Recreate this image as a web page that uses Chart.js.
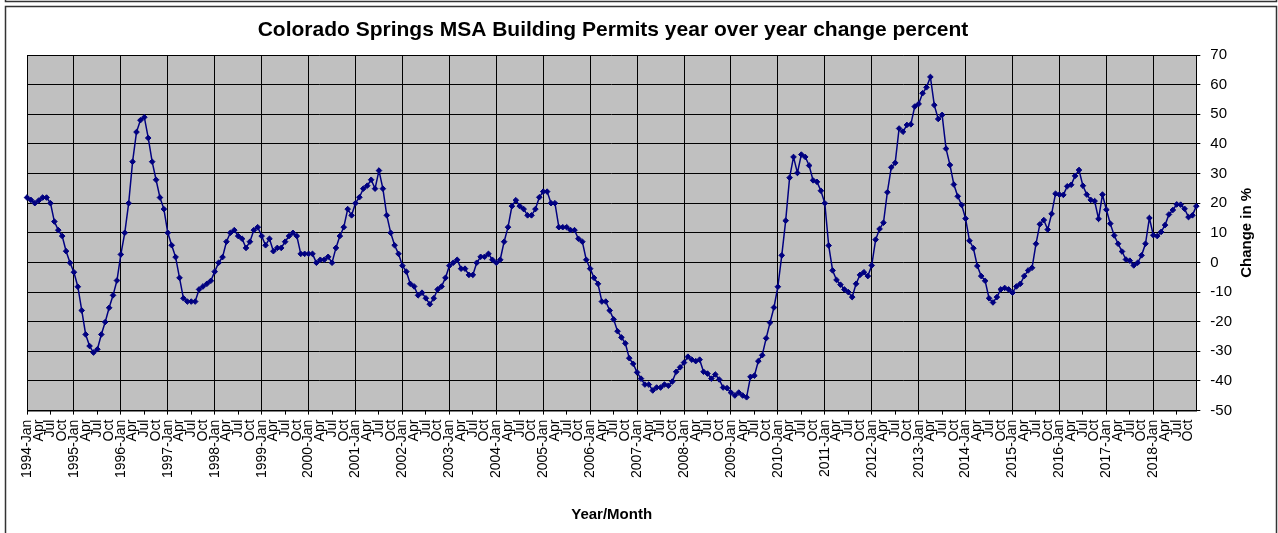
<!DOCTYPE html>
<html>
<head>
<meta charset="utf-8">
<script src="https://cdn.jsdelivr.net/npm/chart.js@4.4.0/dist/chart.umd.min.js"></script>
<style>
  html, body { margin: 0; padding: 0; background: #fff; }
  #wrap { position: relative; width: 1278px; height: 533px; }
</style>
</head>
<body>
<div id="wrap"><canvas id="permitsChart" width="1278" height="533"></canvas></div>
<script>
const firstYear = 1994;
const lastYear = 2018;
const monthNames = ['Jan', 'Feb', 'Mar', 'Apr', 'May', 'Jun', 'Jul', 'Aug', 'Sep', 'Oct', 'Nov', 'Dec'];

// year over year change in %, one value per month, Jan 1994 .. Dec 2018
const changePct = [
  21.9, 21.1, 20.0, 20.9, 21.9, 21.9, 20.0, 13.8, 10.9, 8.9, 3.8, -0.1,
  -3.3, -8.2, -16.2, -24.3, -28.2, -30.4, -29.3, -24.3, -20.1, -15.3, -11.1, -6.1,
  2.7, 10.0, 20.0, 34.0, 44.0, 48.0, 49.0, 42.0, 34.0, 27.9, 21.9, 18.0,
  10.0, 5.8, 1.8, -5.2, -12.1, -13.2, -13.2, -13.2, -9.1, -8.1, -7.2, -6.2,
  -3.1, -0.1, 1.8, 7.0, 10.0, 10.9, 8.9, 8.0, 4.9, 7.0, 10.9, 11.9,
  8.9, 5.8, 8.0, 3.8, 4.9, 4.9, 7.0, 8.9, 10.0, 8.9, 2.9, 2.9,
  2.9, 2.9, -0.1, 0.9, 0.9, 1.9, -0.1, 4.9, 8.9, 11.9, 18.0, 15.9,
  20.0, 22.0, 24.9, 25.9, 27.9, 24.9, 31.0, 24.9, 15.9, 10.0, 5.8, 2.9,
  -1.1, -3.1, -7.2, -8.1, -11.1, -10.2, -12.1, -14.1, -12.1, -9.1, -8.1, -5.2,
  -1.1, -0.1, 0.9, -2.1, -2.1, -4.2, -4.2, -0.1, 1.9, 1.9, 2.9, 0.9,
  -0.1, 0.9, 7.0, 11.9, 19.0, 21.0, 19.0, 18.0, 15.9, 15.9, 18.0, 22.0,
  23.9, 23.9, 20.0, 20.0, 11.9, 11.9, 11.9, 10.9, 10.9, 8.0, 7.0, 0.9,
  -2.1, -5.2, -7.2, -13.2, -13.2, -16.2, -19.2, -23.2, -25.3, -27.3, -32.3, -34.2,
  -37.1, -39.2, -41.2, -41.2, -43.2, -42.2, -42.2, -41.2, -41.6, -40.2, -36.9, -35.4,
  -33.8, -31.8, -32.8, -33.3, -32.8, -36.9, -37.5, -39.2, -37.8, -39.5, -42.2, -42.4,
  -43.9, -44.9, -43.9, -44.9, -45.5, -38.6, -38.2, -33.3, -31.3, -25.6, -20.3, -15.2,
  -8.2, 2.4, 14.1, 28.6, 35.6, 30.2, 36.4, 35.6, 32.7, 27.7, 27.2, 24.2,
  20.0, 5.7, -2.7, -5.9, -7.5, -9.1, -10.0, -11.7, -7.2, -4.2, -3.3, -4.6,
  -1.0, 7.7, 11.3, 13.4, 23.7, 32.1, 33.6, 45.2, 44.1, 46.4, 46.6, 52.6,
  53.5, 57.1, 59.1, 62.6, 53.1, 48.4, 49.8, 38.4, 32.9, 26.3, 22.3, 19.4,
  14.8, 7.3, 4.8, -1.2, -4.6, -6.2, -12.1, -13.5, -11.7, -9.1, -8.6, -9.1,
  -10.2, -8.1, -7.2, -4.6, -2.7, -1.8, 6.3, 12.9, 14.3, 11.1, 16.4, 23.2,
  22.9, 22.8, 25.7, 26.2, 29.2, 31.2, 25.9, 22.9, 21.1, 20.7, 14.7, 22.9,
  17.8, 13.1, 9.1, 6.3, 3.7, 1.0, 0.6, -1.0, -0.1, 2.4, 6.3, 15.0,
  9.2, 8.9, 10.3, 12.6, 16.2, 17.7, 19.6, 19.5, 18.1, 15.3, 15.9, 19.0
];

const yTicks = [-50, -40, -30, -20, -10, 0, 10, 20, 30, 40, 50, 60, 70];

const monthLabels = [];
for (let y = firstYear; y <= lastYear; y++) {
  monthNames.forEach((m) => monthLabels.push(y + '-' + m));
}

const FONT = "'Liberation Sans', Arial, sans-serif";

// excel style: year-Jan, then only the month for Apr/Jul/Oct
const tickLabel = (i) => {
  if (i % 12 === 0) return monthLabels[i];
  if (i % 3 === 0) return monthLabels[i].split('-')[1];
  return '';
};

const sheetDecor = {
  id: 'sheetDecor',
  beforeDraw(chart) {
    const { ctx, chartArea: a } = chart;
    ctx.save();
    ctx.fillStyle = '#fff';
    ctx.fillRect(0, 0, chart.width, chart.height);
    ctx.strokeStyle = '#333';
    ctx.lineWidth = 1.5;
    // bottom of the box above
    ctx.beginPath();
    ctx.moveTo(5.5, 0);
    ctx.lineTo(5.5, 1.5);
    ctx.lineTo(1276.5, 1.5);
    ctx.lineTo(1276.5, 0);
    ctx.stroke();
    // chart frame
    ctx.beginPath();
    ctx.moveTo(5.5, chart.height);
    ctx.lineTo(5.5, 6.5);
    ctx.lineTo(1276.5, 6.5);
    ctx.lineTo(1276.5, chart.height);
    ctx.stroke();
    // plot area
    ctx.fillStyle = '#c0c0c0';
    ctx.fillRect(a.left, a.top, a.width, a.height);
    ctx.strokeStyle = '#808080';
    ctx.lineWidth = 1;
    ctx.strokeRect(Math.round(a.left) + 0.5, Math.round(a.top) + 0.5, Math.round(a.width), Math.round(a.height));
    ctx.restore();
  },
  afterDraw(chart) {
    const { ctx, chartArea: a } = chart;
    ctx.save();
    ctx.fillStyle = '#000';
    ctx.textAlign = 'center';
    ctx.textBaseline = 'middle';
    ctx.font = 'bold 21px ' + FONT;
    ctx.fillText('Colorado Springs MSA Building Permits year over year change percent', 613, 30);
    ctx.font = 'bold 15px ' + FONT;
    ctx.fillText('Year/Month', (a.left + a.right) / 2, 515);
    ctx.translate(1247, (a.top + a.bottom) / 2);
    ctx.rotate(-Math.PI / 2);
    ctx.fillText('Change in %', 0, 0);
    ctx.restore();
  }
};

const ctx = document.getElementById('permitsChart');
new Chart(ctx, {
  type: 'line',
  data: {
    labels: monthLabels,
    datasets: [{
      label: 'Change in %',
      data: changePct,
      borderColor: '#000080',
      backgroundColor: '#000080',
      borderWidth: 1.5,
      pointStyle: 'rectRot',
      pointRadius: 2.8,
      pointBorderWidth: 1,
      pointBackgroundColor: '#000080',
      pointBorderColor: '#000080',
      tension: 0
    }]
  },
  options: {
    responsive: false,
    devicePixelRatio: 1,
    animation: false,
    events: [],
    layout: { padding: { left: 27, right: 36, top: 55, bottom: 50 } },
    plugins: {
      legend: { display: false },
      title: { display: false },
      tooltip: { enabled: false }
    },
    scales: {
      x: {
        type: 'category',
        offset: false,
        border: { display: true, color: '#000', width: 1 },
        grid: {
          color: (c) => (c.index % 12 === 0 ? '#000' : 'rgba(0,0,0,0)'),
          tickColor: (c) => (c.index % 6 === 0 ? '#000' : 'rgba(0,0,0,0)'),
          tickLength: 4
        },
        ticks: {
          autoSkip: false,
          maxRotation: 90,
          minRotation: 90,
          padding: 5,
          color: '#000',
          font: { family: FONT, size: 14 },
          callback: (v, i) => tickLabel(i)
        }
      },
      y: {
        position: 'right',
        min: yTicks[0],
        max: yTicks[yTicks.length - 1],
        border: { display: true, color: '#000', width: 1 },
        grid: { color: '#000', tickColor: '#000', tickLength: 4 },
        afterBuildTicks: (scale) => { scale.ticks = yTicks.map((v) => ({ value: v })); },
        ticks: {
          padding: 10,
          color: '#000',
          font: { family: FONT, size: 15 }
        }
      }
    }
  },
  plugins: [sheetDecor]
});
</script>
</body>
</html>
